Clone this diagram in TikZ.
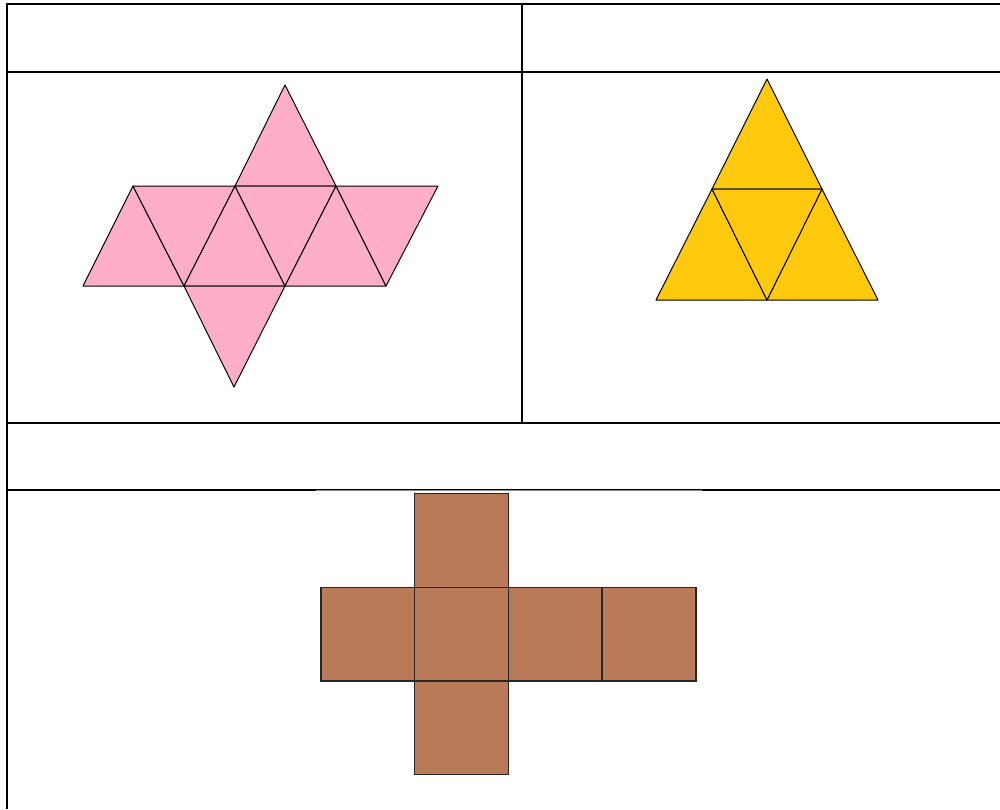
\documentclass[tikz,border=0pt]{standalone}
\definecolor{netpink}{HTML}{FFAEC9}
\definecolor{netgold}{HTML}{FFC90E}
\definecolor{netbrown}{HTML}{B97A57}
\begin{document}
\begin{tikzpicture}[x=1pt,y=-1pt,
  grid/.style={line width=2pt,black},
  face/.style={draw=black,line width=1pt,line join=round},
  pinkface/.style={face,fill=netpink},
  goldface/.style={face,fill=netgold},
  brownface/.style={draw=black!85,line width=1.2pt,fill=netbrown}]
\useasboundingbox (0,0) rectangle (1000,809);
% table
\coordinate (tl) at (7,4);
\draw[grid] (7,809) -- (7,4) -- (1000,4);
\draw[grid] (7,72) -- (1000,72);
\draw[grid] (522,4) -- (522,423);
\draw[grid] (7,423) -- (1000,423);
\draw[grid] (7,490) -- (1000,490);
\draw[black!45,line width=1pt] (316,490.6) -- (702,490.6);
% octahedron net (pink)
\coordinate (T) at (285,85);
\coordinate (U1) at (133,186);
\coordinate (U2) at (235,186);
\coordinate (U3) at (336,186);
\coordinate (U4) at (438,186);
\coordinate (L1) at (83,286);
\coordinate (L2) at (184,286);
\coordinate (L3) at (285,286);
\coordinate (L4) at (386,286);
\coordinate (B) at (234,387);
\draw[pinkface] (U2) -- (T) -- (U3) -- cycle;
\draw[pinkface] (L1) -- (U1) -- (L2) -- cycle;
\draw[pinkface] (U1) -- (U2) -- (L2) -- cycle;
\draw[pinkface] (L2) -- (U2) -- (L3) -- cycle;
\draw[pinkface] (U2) -- (U3) -- (L3) -- cycle;
\draw[pinkface] (L3) -- (U3) -- (L4) -- cycle;
\draw[pinkface] (U3) -- (U4) -- (L4) -- cycle;
\draw[pinkface] (L2) -- (L3) -- (B) -- cycle;
% tetrahedron net (gold)
\coordinate (A) at (767,79);
\coordinate (M1) at (712,189);
\coordinate (M2) at (822,189);
\coordinate (P1) at (656,300);
\coordinate (P2) at (767,300);
\coordinate (P3) at (878,300);
\draw[goldface] (A) -- (M1) -- (M2) -- cycle;
\draw[goldface] (M1) -- (P1) -- (P2) -- cycle;
\draw[goldface] (M2) -- (P2) -- (P3) -- cycle;
\draw[goldface] (M1) -- (M2) -- (P2) -- cycle;
% cube net (brown)
\draw[brownface] (414.5,493.5) rectangle (508.5,587.5);
\draw[brownface] (321,587.5) rectangle (414.5,681);
\draw[brownface] (414.5,587.5) rectangle (508.5,681);
\draw[brownface] (508.5,587.5) rectangle (602,681);
\draw[brownface] (602,587.5) rectangle (696,681);
\draw[brownface] (414.5,681) rectangle (508.5,774.5);
\end{tikzpicture}
\end{document}
